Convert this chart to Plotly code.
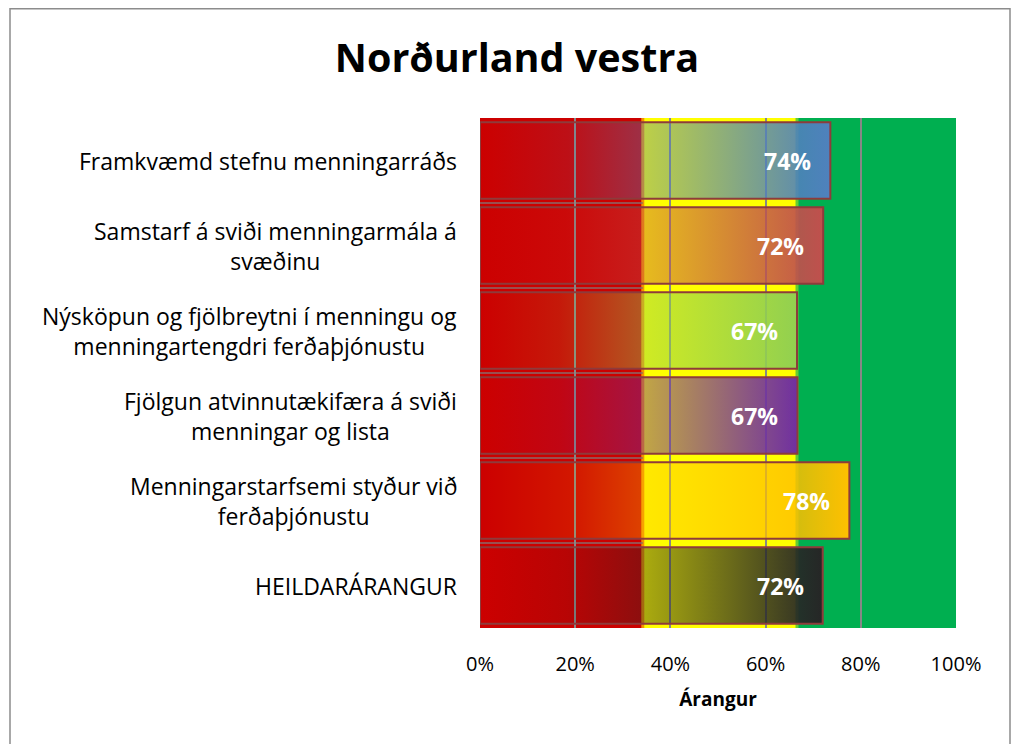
import plotly.graph_objects as go

# ---- data ----
categories = [
    "Framkvæmd stefnu menningarráðs",
    "Samstarf á sviði menningarmála á<br>svæðinu",
    "Nýsköpun og fjölbreytni í menningu og<br>menningartengdri ferðaþjónustu",
    "Fjölgun atvinnutækifæra á sviði<br>menningar og lista",
    "Menningarstarfsemi styður við<br>ferðaþjónustu",
    "HEILDARÁRANGUR",
]
values = [0.736, 0.721, 0.666, 0.667, 0.776, 0.720]
bar_colors = [(79, 129, 189), (192, 80, 77), (146, 208, 80), (112, 48, 160), (255, 192, 0), (38, 38, 38)]
zone_edges = [0.0, 0.342, 0.666, 1.0]
zone_colors = ["#CC0000", "#FFFF00", "#00AF50"]
zone_edge_colors = ["#F39200", "#66CC33"]
x_ticks = [0, 0.2, 0.4, 0.6, 0.8, 1.0]
x_ticklabels = ["0%", "20%", "40%", "60%", "80%", "100%"]

BW = 0.9  # bar thickness in category units
FONT = "Open Sans"

fig = go.Figure()

# gradient bars (filled polygons derived from data values)
for i, (v, c) in enumerate(zip(values, bar_colors)):
    r, g, b = c
    y0, y1 = i - BW / 2, i + BW / 2
    fig.add_trace(go.Scatter(
        x=[0, v, v, 0, 0], y=[y0, y0, y1, y1, y0],
        mode="lines", fill="toself",
        line=dict(color="#8E3B3B", width=2),
        fillgradient=dict(type="horizontal",
                          colorscale=[[0, f"rgba({r},{g},{b},0)"],
                                      [0.25, f"rgba({r},{g},{b},0.12)"],
                                      [1, f"rgba({r},{g},{b},1)"]]),
        hoverinfo="skip", showlegend=False,
    ))

shapes = []
for k in range(len(zone_colors)):
    shapes.append(dict(type="rect", xref="x", yref="paper",
                       x0=zone_edges[k], x1=zone_edges[k + 1], y0=0, y1=1,
                       fillcolor=zone_colors[k], line=dict(width=0), layer="below"))
for k, col in enumerate(zone_edge_colors):
    xe = zone_edges[k + 1]
    shapes.append(dict(type="line", xref="x", yref="paper", x0=xe, x1=xe, y0=0, y1=1,
                       line=dict(color=col, width=3), layer="below"))
# separators between category bands in the red zone
for i in range(len(categories) - 1):
    shapes.append(dict(type="line", xref="x", yref="y", x0=zone_edges[0], x1=zone_edges[1],
                       y0=i + 0.5, y1=i + 0.5, line=dict(color="#8A6A6A", width=1.5), layer="below"))

# figure geometry (page body has an 8px margin)
OFF = 8
W, H = 1020 - OFF, 744 - OFF
L, T = 480 - OFF, 118 - OFF
R = 1020 - 956
B = H - T - 510
pw, ph = W - L - R, H - T - B
# outer chart border
shapes.append(dict(type="rect", xref="paper", yref="paper",
                   x0=(10 - OFF - L) / pw, x1=(1010 - OFF - L) / pw,
                   y0=-(H - T - ph + 20) / ph, y1=(ph + T - 0.75) / ph,
                   line=dict(color="#8C8C8C", width=1.5), fillcolor="rgba(0,0,0,0)", layer="above"))

annotations = []
for i, (v, cat) in enumerate(zip(values, categories)):
    annotations.append(dict(x=v, y=i, xref="x", yref="y", text=f"<b>{v:.0%}</b>",
                            showarrow=False, xanchor="right", xshift=-17,
                            font=dict(family=FONT, size=23, color="white")))
    annotations.append(dict(x=0, y=i, xref="paper", yref="y", text=cat,
                            showarrow=False, xanchor="right", xshift=-21, align="center",
                            font=dict(family=FONT, size=23, color="black")))

fig.update_layout(
    width=W, height=H,
    margin=dict(l=L, r=R, t=T, b=B),
    paper_bgcolor="white", plot_bgcolor="white",
    title=dict(text="<b>Norðurland vestra</b>", x=(517 - OFF) / W, xanchor="center",
               y=1 - (58 - OFF) / H, yanchor="middle",
               font=dict(family=FONT, size=39.5, color="black")),
    xaxis=dict(range=[0, 1], tickvals=x_ticks, ticktext=x_ticklabels,
               showgrid=True, gridcolor="#878787", gridwidth=1.5,
               zeroline=False, showline=False,
               ticks="outside", ticklen=18, tickcolor="rgba(0,0,0,0)",
               tickfont=dict(family=FONT, size=20, color="black"),
               title=dict(text="<b>Árangur</b>", standoff=16,
                          font=dict(family=FONT, size=19, color="black"))),
    yaxis=dict(range=[len(categories) - 0.5, -0.5], showticklabels=False,
               showgrid=False, zeroline=False, ticks=""),
    shapes=shapes, annotations=annotations, showlegend=False,
)

fig.write_html("out.html")
